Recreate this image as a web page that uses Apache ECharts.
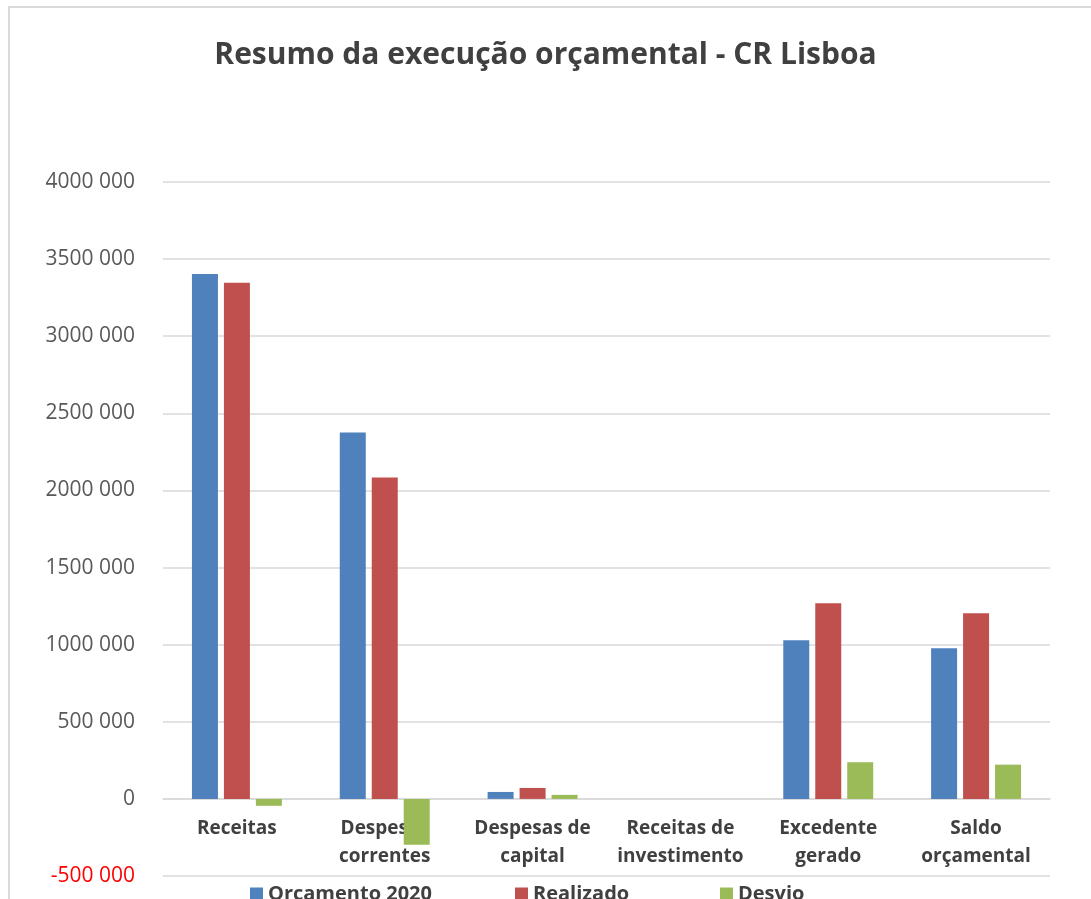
<!DOCTYPE html>
<html><head><meta charset="utf-8">
<script src="https://cdn.jsdelivr.net/npm/echarts@6/dist/echarts.min.js"></script>
<style>
html,body{margin:0;padding:0;background:#fff;overflow:hidden}
#frame{position:absolute;left:8px;top:6px;width:1200px;height:1000px;border-left:2px solid #d9d9d9;border-top:2px solid #d9d9d9}
#chart{position:absolute;left:0;top:0;width:1091px;height:899px}
</style></head>
<body>
<div id="frame"></div>
<div id="chart"></div>
<script>
const categories = ['Receitas', 'Despesas\ncorrentes', 'Despesas de\ncapital', 'Receitas de\ninvestimento', 'Excedente\ngerado', 'Saldo\norçamental'];
const orcamento2020 = [3404000, 2375000, 45000, 0, 1029000, 977000];
const realizado = [3346000, 2084000, 71000, 0, 1269000, 1204000];
const desvio = [-45000, -298000, 26000, 0, 238000, 222000];
const seriesNames = ['Orcamento 2020', 'Realizado', 'Desvio'];
const colors = ['#4F81BD', '#C0504D', '#9BBB59'];

function fmt(v) {
  const n = Math.abs(v);
  let s;
  if (n >= 1000) {
    const r = String(n % 1000).padStart(3, '0');
    s = Math.floor(n / 1000) + ' ' + r;
  } else s = String(n);
  return (v < 0 ? '-' : '') + s;
}

const FONT = '"Open Sans", sans-serif';
const chart = echarts.init(document.getElementById('chart'));
const mk = (name, data, i) => ({
  name, type: 'bar', data, barWidth: 26, barGap: '23%',
  itemStyle: { color: colors[i] }
});
const legendLefts = [250, 515, 720];
const mkLegend = (name, i) => ({
  data: [name], left: legendLefts[i], top: 884, itemWidth: 13, itemHeight: 13,
  icon: 'rect', padding: 0,
  textStyle: { fontFamily: FONT, fontSize: 20, fontWeight: 'bold', color: '#404040' }
});
chart.setOption({
  animation: false,
  backgroundColor: 'transparent',
  title: {
    text: 'Resumo da execução orçamental - CR Lisboa',
    left: 'center', top: 35,
    textStyle: { fontFamily: FONT, fontSize: 30, fontWeight: 'bold', color: '#404040' }
  },
  legend: seriesNames.map(mkLegend),
  grid: { left: 163, right: 41, top: 182, bottom: 23, containLabel: false, outerBoundsMode: 'none' },
  xAxis: {
    type: 'category', data: categories, offset: -77,
    axisLine: { onZero: false, lineStyle: { color: '#d9d9d9', width: 1.5 } },
    axisTick: { show: false },
    axisLabel: { fontFamily: FONT, fontSize: 19, fontWeight: 'bold', color: '#404040', lineHeight: 28, margin: 16, interval: 0 }
  },
  yAxis: {
    type: 'value', min: -500000, max: 4000000, interval: 500000,
    axisLine: { show: false }, axisTick: { show: false },
    splitLine: { lineStyle: { color: '#d9d9d9', width: 1.5 } },
    axisLabel: {
      fontFamily: FONT, fontSize: 21, color: '#595959', margin: 28,
      formatter: v => v < 0 ? '{neg|' + fmt(v) + '}' : fmt(v),
      rich: { neg: { fontFamily: FONT, fontSize: 21, color: '#FF0000' } }
    }
  },
  series: [mk(seriesNames[0], orcamento2020, 0), mk(seriesNames[1], realizado, 1), mk(seriesNames[2], desvio, 2)]
});
</script>
</body></html>
